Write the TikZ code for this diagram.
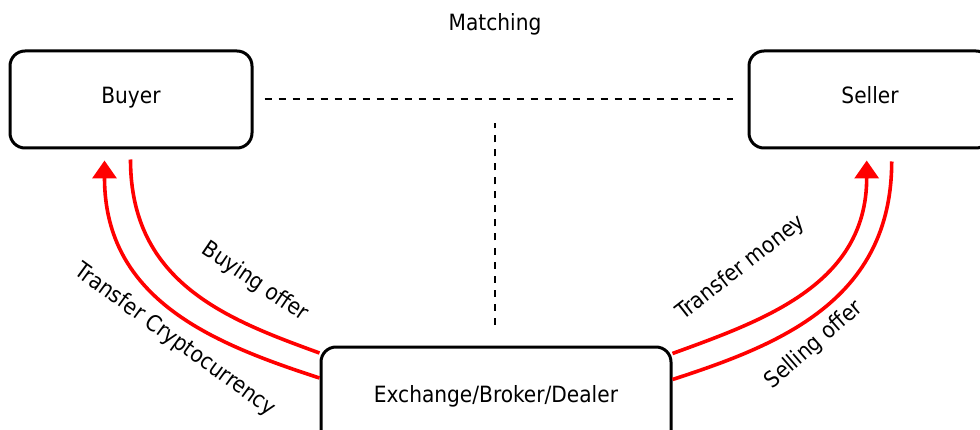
\documentclass[tikz,border=0pt]{standalone}
\usepackage{fontspec}
\setmainfont{DejaVu Sans Condensed}
\usetikzlibrary{arrows.meta}

\tikzset{
  party/.style={draw, line width=3pt, rounded corners=15pt,
    minimum width=242pt, minimum height=97pt, inner sep=0pt,
    text height=16pt, text depth=7pt},
  flow/.style={draw=red, line width=3.6pt},
  flowtip/.style={flow, -{Triangle[width=24pt,length=18pt]}},
  matchline/.style={draw, line width=2pt, dash pattern=on 7pt off 7pt},
  lbl/.style={inner sep=0pt}
}

\begin{document}
\begin{tikzpicture}[x=1pt,y=1pt,font=\fontsize{22.4}{27}\selectfont]
  \useasboundingbox (0,0) rectangle (980,429);
  \clip (0,0) rectangle (980,429);

  % parties
  \node[party] (buyer) at (131,329.5) {Buyer};
  \node[party] (seller) at (870,329.5) {Seller};
  \node[party, minimum width=350pt, minimum height=102pt] (exch) at (496,31)
    {Exchange/Broker/Dealer};
  \node[lbl, anchor=base] (matching) at (495,398.3) {Matching};

  % matching lines
  \coordinate (matchtop) at (495,306);
  \draw[matchline] ([xshift=11pt]buyer.east) -- ([xshift=-15pt]seller.west);
  \draw[matchline] ([xshift=-1pt,yshift=21pt]exch.north) -- (matchtop);

  % buyer side flows
  \draw[flowtip] ([yshift=20pt]exch.west)
    .. controls +(162:110) and +(-90:140) ..
    ([xshift=-26.5pt,yshift=-11pt]buyer.south);
  \draw[flow] ([yshift=45pt]exch.west)
    .. controls +(160:97) and +(-90:124) ..
    ([xshift=-0.5pt,yshift=-10pt]buyer.south);

  % seller side flows
  \draw[flowtip] ([yshift=44.5pt]exch.east)
    .. controls +(20:97) and +(-90:124) ..
    ([xshift=-3.3pt,yshift=-11pt]seller.south);
  \draw[flow] ([yshift=18.5pt]exch.east)
    .. controls +(18:110) and +(-90:140) ..
    ([xshift=21.7pt,yshift=-12pt]seller.south);

  % flow labels
  \node[lbl, rotate=-34] (buyoffer) at (255,147) {Buying offer};
  \node[lbl, rotate=-36] (crypto) at (175,89) {Transfer Cryptocurrency};
  \node[lbl, rotate=38] (money) at (741,161) {Transfer money};
  \node[lbl, rotate=41] (selloffer) at (814,84) {Selling offer};
\end{tikzpicture}
\end{document}
